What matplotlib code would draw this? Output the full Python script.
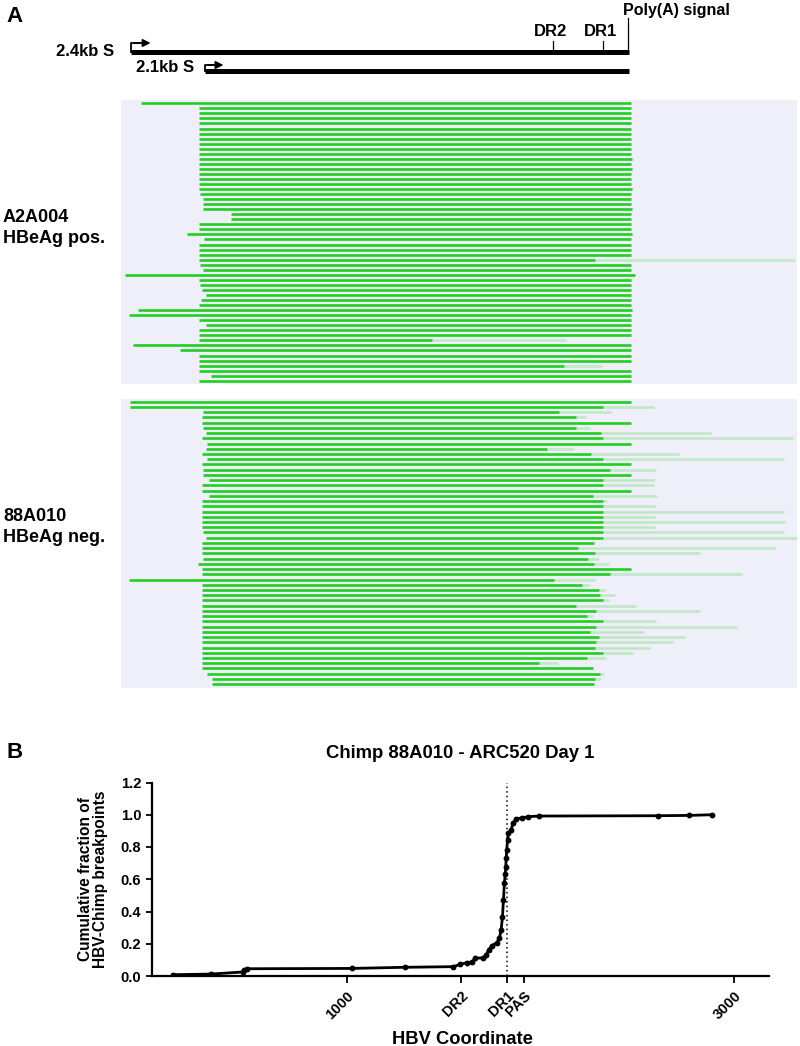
import matplotlib
matplotlib.use('Agg')
import matplotlib.pyplot as plt
import numpy as np

plt.rcParams['font.family'] = ['Liberation Sans', 'DejaVu Sans']
plt.rcParams['font.weight'] = 'bold'

nan = np.nan

# ---- panel A: schematic (positions in nt along the 2.4kb transcript) ----
transcripts = ['2.4kb S', '2.1kb S']
tx_start = [0, 357]
tx_end = 2405
dr_names = ['DR2', 'DR1']
dr_pos = [2036, 2278]
polya_pos = 2400

# ---- panel A: reads, A2A004 (HBeAg pos.) ----
top_start = [50, 330, 330, 330, 330, 330, 330, 330, 330, 330, 330, 330, 330, 330,
             330, 330, 330, 330, 335, 350, 350, 350, 485, 485, 330, 330, 270, 355,
             330, 330, 330, 330, 335, 350, -30, 330, 335, 345, 360, 340, 330, 35,
             -10, 330, 360, 330, 330, 330, 10, 235, 330, 330, 330, 330, 385, 330]
top_dark_end = [2415, 2415, 2415, 2415, 2415, 2415, 2415, 2415, 2415, 2415, 2415, 2420,
                2415, 2420, 2415, 2415, 2415, 2420, 2415, 2415, 2415, 2420, 2415, 2415,
                2415, 2415, 2420, 2415,
                2415, 2415, 2415, 2240, 2415, 2415, 2435, 2415, 2415, 2415, 2415, 2415,
                2415, 2420, 2415, 2415, 2415, 2415, 2415, 1455, 2415, 2415, 2415, 2415,
                2090, 2415, 2415, 2415]
top_ext_rows = [31, 47, 52]
top_ext_end = [3205, 2100, 2275]

# ---- panel A: reads, 88A010 (HBeAg neg.) ----
bot_start = [-5, -5, 350, 345, 345, 350, 360, 345, 365, 360, 345, 365, 345, 350,
             350, 375, 345, 345, 375, 345, 345, 345, 345, 345, 345, 350, 360, 345,
             345, 345, 350, 325, 345, 345, -10] + [345] * 17 + [365, 390, 390]
bot_dark_end = [2415, 2280, 2065, 2150, 2415, 2150, 2270, 2280, 2415, 2010, 2220, 2280,
                2415, 2315, 2415, 2280, 2280, 2415, 2230, 2280, 2280, 2280, 2280, 2280,
                2280, 2280, 2280, 2235,
                2160, 2240, 2205, 2235, 2415, 2315, 2045, 2180, 2260, 2265, 2280, 2150,
                2245, 2200, 2280, 2245, 2215, 2260, 2245, 2240, 2280, 2200, 1970, 2230,
                2265, 2240, 2235]
bot_light_end = [nan, 2525, 2320, 2195, nan, 2215, 2800, 3195, nan, 2140, 2645, 3155,
                 nan, 2535, nan, 2530, 2525, nan, 2540, 2300, 2530, 3155, 2530, 3160,
                 2530, 3155, 3225, nan,
                 3110, 2750, 2260, 2310, nan, 2950, 2240, 2215, 2290, 2335, 2310, 2440,
                 2750, 2230, 2535, 2925, 2475, 2675, 2615, 2505, 2425, 2295, 2060, nan,
                 2285, 2270, nan]

# ---- panel B: cumulative breakpoints ----
bp_coord = [101, 300, 463, 470, 484, 1026, 1301, 1551, 1585, 1620, 1646, 1663, 1706, 1720,
            1732, 1749, 1775, 1788, 1797, 1804, 1809, 1814, 1818, 1821, 1823, 1826, 1830,
            1835, 1849, 1857, 1874, 1904, 1938, 1990, 2609, 2769, 2885]
bp_frac = [0.008, 0.012, 0.025, 0.037, 0.045, 0.047, 0.054, 0.058, 0.072, 0.083, 0.087, 0.11,
           0.113, 0.13, 0.161, 0.188, 0.206, 0.233, 0.285, 0.368, 0.471, 0.575, 0.63,
           0.678, 0.73, 0.781, 0.843, 0.885, 0.905, 0.947, 0.973, 0.981, 0.988, 0.992,
           0.994, 0.996, 1.0]
tick_pos = [1000, 1592, 1826, 1916, 3000]
tick_lab = ['1000', 'DR2', 'DR1', 'PAS', '3000']

W, H = 800, 1046
fig = plt.figure(figsize=(W / 100, H / 100), dpi=100)


def box(x0, y0, x1, y1):
    return [x0 / W, 1 - y1 / H, (x1 - x0) / W, (y1 - y0) / H]


dark = '#20cf20'
light = '#c2e7c8'
bg = '#efeffa'
xl = (-48, 3216)

# schematic
axs = fig.add_axes(box(121, 0, 797, 95))
axs.set_xlim(xl)
axs.set_ylim(95, 0)
axs.axis('off')
line_y = [52, 71]
for name, s, ly in zip(transcripts, tx_start, line_y):
    axs.plot([s, tx_end], [ly, ly], color='black', lw=3.6, solid_capstyle='butt')
for s, ly, top, head in zip(tx_start, line_y, [43, 65], [95, 447]):
    axs.plot([s, s, s + 40], [ly, top, top], color='black', lw=1.3)
    axs.annotate('', xy=(head, top), xytext=(s + 20, top),
                 arrowprops=dict(arrowstyle='-|>', color='black', lw=1.3,
                                 mutation_scale=11, shrinkA=0, shrinkB=0))
axs.text(-82, 52, transcripts[0], ha='right', va='center', fontsize=12)
axs.text(304, 67, transcripts[1], ha='right', va='center', fontsize=12)
for name, p in zip(dr_names, dr_pos):
    axs.plot([p, p], [41, 52], color='black', lw=0.9)
    axs.text(p - 10, 31, name, ha='center', va='center', fontsize=12)
axs.plot([polya_pos, polya_pos], [18, 52], color='black', lw=0.9)
axs.text(polya_pos - 25, 10, 'Poly(A) signal', ha='left', va='center', fontsize=11.5)


def draw_reads(ax, starts, dark_end, light_end):
    rows = np.arange(len(starts))
    ax.set_facecolor(bg)
    ax.hlines(rows, dark_end, light_end, color=light, lw=1.9)
    ax.hlines(rows, starts, dark_end, color=dark, lw=1.9)
    ax.set_xlim(xl)
    for sp in ax.spines.values():
        sp.set_visible(False)
    ax.set_xticks([])
    ax.set_yticks([])


top_light = [nan] * len(top_start)
for r, e in zip(top_ext_rows, top_ext_end):
    top_light[r] = e

ax1 = fig.add_axes(box(121, 100, 797, 384))
draw_reads(ax1, top_start, top_dark_end, top_light)
ax1.set_ylim(55.65, -0.654)

ax2 = fig.add_axes(box(121, 399.5, 797, 688))
draw_reads(ax2, bot_start, bot_dark_end, bot_light_end)
ax2.set_ylim(54.74, -0.42)

fig.text(3 / W, 1 - 228 / H, 'A2A004\nHBeAg pos.', ha='left', va='center',
         fontsize=13, linespacing=1.3)
fig.text(3 / W, 1 - 527 / H, '88A010\nHBeAg neg.', ha='left', va='center',
         fontsize=13, linespacing=1.3)
fig.text(6 / W, 1 - 16 / H, 'A', ha='left', va='center', fontsize=16)
fig.text(6 / W, 1 - 752 / H, 'B', ha='left', va='center', fontsize=16)

# panel B
axb = fig.add_axes(box(151.7, 782.5, 769, 976))
axb.plot(bp_coord, bp_frac, color='black', lw=2.0, marker='o', markersize=3.2)
axb.axvline(1826, color='black', lw=1.1, ls=(0, (1, 2)))
axb.set_xlim(-7, 3180)
axb.set_ylim(0, 1.2)
axb.set_yticks(np.arange(0, 1.21, 0.2))
axb.set_yticklabels(['%.1f' % v for v in np.arange(0, 1.21, 0.2)], fontsize=10.6)
axb.set_xticks(tick_pos)
axb.set_xticklabels(tick_lab, fontsize=10.6, rotation=45, ha='right',
                    rotation_mode='anchor')
axb.spines['top'].set_visible(False)
axb.spines['right'].set_visible(False)
axb.spines['left'].set_linewidth(1.6)
axb.spines['bottom'].set_linewidth(1.6)
axb.tick_params(width=1.3, length=4, direction='out')
axb.tick_params(axis='x', length=5, pad=4)

fig.text(460 / W, 1 - 753 / H, 'Chimp 88A010 - ARC520 Day 1', ha='center',
         va='center', fontsize=13.3)
fig.text(462 / W, 1 - 1039 / H, 'HBV Coordinate', ha='center', va='center',
         fontsize=13.2)
fig.text(93 / W, 1 - 879 / H, 'Cumulative fraction of\nHBV-Chimp breakpoints',
         ha='center', va='center', rotation=90, fontsize=11.2, linespacing=1.0)

fig.savefig('out.png', dpi=100)
